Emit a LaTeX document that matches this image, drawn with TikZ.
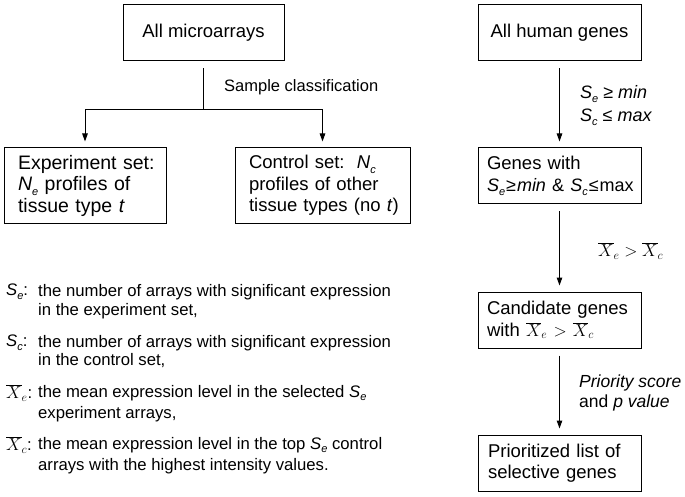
\documentclass[tikz,border=0pt]{standalone}
\usepackage{fontspec}
\setmainfont{Liberation Sans}
\usetikzlibrary{arrows.meta}
\newcommand\mysb[1]{\raisebox{-0.45ex}{\fontsize{11}{11}\selectfont\itshape #1}}
\newcommand\mySe{\textit{S}\mysb{e}}
\newcommand\mySc{\textit{S}\mysb{c}}
\newcommand\myNe{\textit{N}\mysb{e}}
\newcommand\myNc{\textit{N}\mysb{c}}
\newcommand\myXe{$\overline{X}_{e}$}
\newcommand\myXc{$\overline{X}_{c}$}
\begin{document}
\begin{tikzpicture}[x=1pt,y=-1pt,
  box/.style={draw,line width=1pt,minimum height=56pt,inner ysep=0pt,align=left,
    font=\fontsize{18.5}{21.5}\selectfont},
  lbl/.style={anchor=west,inner sep=0pt,font=\fontsize{16.5}{19}\selectfont},
  legtxt/.style={anchor=west,inner sep=0pt,font=\fontsize{16.7}{19}\selectfont},
  conn/.style={line width=1pt},
  arr/.style={line width=1pt,-{Triangle[length=8pt,width=5.5pt]},shorten >=6pt}]
\useasboundingbox (0,0) rectangle (685,497);
% left column
\node[box,minimum width=161pt,align=center] (am) at (203.5,33) {All microarrays};
\node[box,minimum height=75pt,inner xsep=14pt,text width=134pt,font=\fontsize{19.5}{21.5}\selectfont] (exp) at (85,185.5)
  {\mbox{Experiment set:}\\ \mbox{\myNe\ profiles of}\\ \mbox{tissue type \textit{t}}};
\node[box,minimum height=75pt,inner xsep=14pt,text width=147pt] (ctl) at (322.5,185.5)
  {\mbox{Control set:\ \ \myNc}\\ \mbox{profiles of other}\\ \mbox{tissue types (no \textit{t})}};
\coordinate (j) at (203.5,110);
\draw[conn,shorten <=7pt] (am.south) -- (j);
\draw[arr] (j) -| (exp.north);
\draw[arr] (j) -| (ctl.north);
\node[lbl] (sc) at (224,87) {Sample classification};
% right column
\node[box,minimum width=163pt,align=center] (ahg) at (559.5,33) {All human genes};
\node[box,inner xsep=9pt,text width=145pt] (gw) at (559.5,176)
  {\mbox{Genes with}\\ \mbox{\fontsize{18}{21}\selectfont\mySe\kern1pt≥\kern1pt\textit{min} \& \mySc\kern1pt≤\kern1pt max}};
\node[box,inner xsep=9pt,text width=145pt] (cand) at (559.5,320)
  {\mbox{Candidate genes}\\ \mbox{with \myXe\ $>$ \myXc}};
\node[box,inner xsep=10pt,text width=143pt] (prio) at (559.5,463)
  {\mbox{Prioritized list of}\\ \mbox{selective genes}};
\draw[arr,shorten <=7pt] (ahg.south) -- (gw.north);
\draw[arr,shorten <=7pt] (gw.south) -- (cand.north);
\draw[arr,shorten <=7pt] (cand.south) -- (prio.north);
\node[lbl,font=\fontsize{18}{21}\selectfont] (l1) at (580,94) {\mySe\ ≥ \textit{min}};
\node[lbl,font=\fontsize{18}{21}\selectfont] (l2) at (580,117) {\mySc\ ≤ \textit{max}};
\node[lbl,font=\fontsize{17}{19}\selectfont] (l3) at (598,251) {\myXe\ $>$ \myXc};
\node[lbl,font=\fontsize{17.5}{20}\selectfont] (l4) at (579,383) {\textit{Priority score}};
\node[lbl,font=\fontsize{17.5}{20}\selectfont] (l5) at (579,403) {and \textit{p value}};
% legend
\node[legtxt] (k1) at (6,292) {\mySe:};
\node[legtxt] (t1a) at (38,292) {the number of arrays with significant expression};
\node[legtxt] (t1b) at (38,311) {in the experiment set,};
\node[legtxt] (k2) at (6,343) {\mySc:};
\node[legtxt] (t2a) at (38,343) {the number of arrays with significant expression};
\node[legtxt] (t2b) at (38,361) {in the control set,};
\node[legtxt] (k3) at (6,393) {\myXe:};
\node[legtxt] (t3a) at (38,393) {the mean expression level in the selected \mySe};
\node[legtxt] (t3b) at (38,414) {experiment arrays,};
\node[legtxt] (k4) at (6,445) {\myXc:};
\node[legtxt] (t4a) at (38,445) {the mean expression level in the top \mySe\ control};
\node[legtxt] (t4b) at (38,466) {arrays with the highest intensity values.};
\end{tikzpicture}
\end{document}
